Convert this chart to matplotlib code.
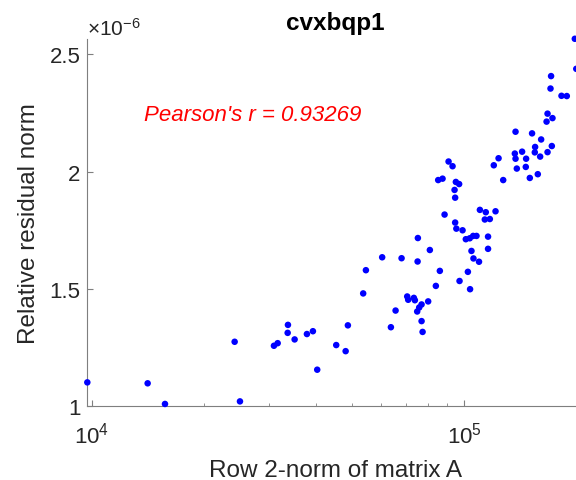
import matplotlib
matplotlib.use("Agg")
import matplotlib.pyplot as plt
from matplotlib.ticker import FuncFormatter, LogLocator, NullFormatter

plt.rcParams['font.family'] = ['Liberation Sans', 'DejaVu Sans']
plt.rcParams['mathtext.fontset'] = 'custom'
plt.rcParams['mathtext.rm'] = 'Liberation Sans'
plt.rcParams['mathtext.it'] = 'Liberation Sans:italic'

# row 2-norm of A vs relative residual norm
row_norm = [9730, 14130, 15730, 25010, 24200, 30860, 31580, 33650, 33590, 35070,
            37840, 39270, 40330, 45360, 48080, 48750, 53590, 54500, 60270, 63610,
            65480, 67950, 70360, 70790, 73320, 73780, 75030, 75160, 74840, 75780,
            76900, 76900, 77380, 80100, 80940, 84000, 86100, 88650, 94650, 95350,
            99080, 97250, 102400, 103800, 104700, 106000, 109700, 101100, 103600, 105800,
            108000, 116000, 116000, 110300, 114400, 121500, 113700, 117300, 94300, 94650,
            85220, 87550, 95060, 97010, 90870, 93140, 123800, 120200, 127400, 137500,
            152300, 161100, 172100, 155200, 167600, 143200, 136900, 154900, 137500, 146800,
            160100, 138600, 146500, 157800, 150200, 167600, 172800, 166600, 171300, 170700,
            182700, 188800, 198400, 200200]
residual = [1.102, 1.098, 1.010, 1.021, 1.275, 1.258, 1.269, 1.347, 1.313, 1.285,
            1.308, 1.320, 1.156, 1.261, 1.235, 1.345, 1.481, 1.580, 1.635, 1.337,
            1.408, 1.631, 1.468, 1.454, 1.462, 1.452, 1.617, 1.717, 1.404, 1.421,
            1.434, 1.363, 1.317, 1.447, 1.666, 1.513, 1.577, 1.817, 1.783, 1.757,
            1.750, 1.534, 1.573, 1.499, 1.662, 1.630, 1.616, 1.712, 1.716, 1.726,
            1.726, 1.723, 1.671, 1.837, 1.827, 1.831, 1.796, 1.798, 1.922, 1.889,
            1.964, 1.970, 1.956, 1.947, 2.043, 2.023, 2.057, 2.027, 1.964, 2.170,
            2.163, 2.137, 2.109, 2.105, 2.083, 2.085, 2.077, 2.082, 2.055, 2.055,
            2.064, 2.013, 2.020, 1.989, 1.973, 2.247, 2.228, 2.213, 2.407, 2.354,
            2.323, 2.322, 2.566, 2.438]
residual = [v * 1e-6 for v in residual]
pearson_r = 0.93269

fig = plt.figure(figsize=(5.76, 4.81), dpi=100)
ax = fig.add_axes([0.1516, 0.1532, 0.8623, 0.7636])

ax.scatter(row_norm, residual, s=22, c='#0000ff', edgecolors='none', clip_on=False, zorder=3)
ax.set_xscale('log')
ax.set_xlim(9730, 2.1e5)
ax.set_ylim(1.0e-6, 2.565e-6)

ax.xaxis.set_major_locator(LogLocator(base=10))
ax.xaxis.set_minor_locator(LogLocator(base=10, subs=range(2, 10)))
ax.xaxis.set_minor_formatter(NullFormatter())
ax.set_yticks([1.0e-6, 1.5e-6, 2.0e-6, 2.5e-6])
ax.yaxis.set_major_formatter(FuncFormatter(lambda v, p: f"{v * 1e6:g}"))
ax.text(0, 1.0, r'$\times10^{-6}$', transform=ax.transAxes, ha='left', va='bottom',
        fontsize=15, color='#262626')

for side in ['top', 'right']:
    ax.spines[side].set_visible(False)
for side in ['left', 'bottom']:
    ax.spines[side].set_color('#7f7f7f')
ax.tick_params(which='both', direction='in', colors='#7f7f7f', labelcolor='#262626',
               labelsize=16, pad=5)
ax.tick_params(axis='x', which='both', pad=11)
ax.tick_params(which='major', length=4)
ax.tick_params(which='minor', length=2.5)

ax.set_title('cvxbqp1', fontsize=17.5, fontweight='bold', pad=7)
ax.set_xlabel('Row 2-norm of matrix A', fontsize=17.5, color='#262626', labelpad=8)
ax.set_ylabel('Relative residual norm', fontsize=17.5, color='#262626', labelpad=7)

ax.text(1.38e4, 2.245e-6, f"Pearson's r = {pearson_r}", color='#ff0000',
        fontsize=16, style='italic', va='center')

fig.savefig('out.png', dpi=100)
